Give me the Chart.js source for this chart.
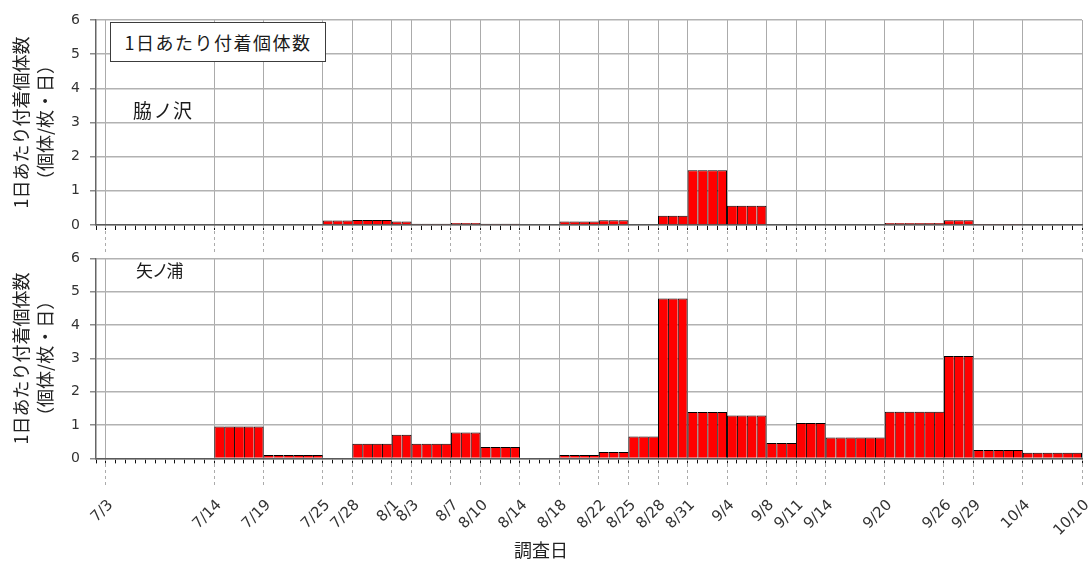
<!DOCTYPE html>
<html lang="ja">
<head>
<meta charset="utf-8">
<title>1日あたり付着個体数</title>
<script src="https://cdn.jsdelivr.net/npm/chart.js@4.4.1/dist/chart.umd.min.js"></script>
<style>
  html, body { margin: 0; padding: 0; background: #fff; }
  #wrap { position: relative; width: 1089px; height: 563px; overflow: hidden; background: #fff; }
  canvas { position: absolute; left: 0; }
  #c1 { top: 0; z-index: 2; }
  #c2 { top: 240px; z-index: 1; }
  .lbl { position: absolute; z-index: 3; font-family: 'Noto Sans CJK JP', sans-serif; color: #1a1a1a; white-space: nowrap; line-height: 1; }
  #key { left: 110px; top: 22px; width: 214px; height: 38px; border: 1px solid #3c3c3c; background: #fff;
         font-size: 18px; letter-spacing: 1.5px; display: flex; align-items: center; justify-content: center; }
  #site1 { left: 133px; top: 100px; font-size: 19px; letter-spacing: 3px; font-feature-settings: "palt"; }
  #site2 { left: 136px; top: 261px; font-size: 17px; font-feature-settings: "palt"; }
</style>
</head>
<body>
<div id="wrap">
  <canvas id="c1" width="1089" height="262"></canvas>
  <canvas id="c2" width="1089" height="323"></canvas>
  <div class="lbl" id="key">1日あたり付着個体数</div>
  <div class="lbl" id="site1">脇ノ沢</div>
  <div class="lbl" id="site2">矢ノ浦</div>
</div>
<script>
// Survey dates (tick labels); each value below is the daily mean for the
// period between one survey date and the next (null = no bar).
const surveyDates = ['7/3','7/14','7/19','7/25','7/28','8/1','8/3','8/7','8/10','8/14','8/18','8/22',
                     '8/25','8/28','8/31','9/4','9/8','9/11','9/14','9/20','9/26','9/29','10/4','10/10'];

// 脇ノ沢 (individuals / plate / day)
const wakinosawa = [null, null, null, 0.13, 0.15, 0.10, 0.04, 0.06, 0.04, null, 0.10, 0.14,
                    null, 0.27, 1.60, 0.56, null, null, 0.02, 0.06, 0.14, 0.03, null];

// 矢ノ浦 (individuals / plate / day)
const yanoura = [null, 0.96, 0.10, null, 0.44, 0.71, 0.44, 0.78, 0.34, null, 0.10, 0.19,
                 0.66, 4.80, 1.39, 1.29, 0.46, 1.06, 0.63, 1.40, 3.07, 0.25, 0.17];

const yTickValues = [0, 1, 2, 3, 4, 5, 6];
const yTitle = ['1日あたり付着個体数', '（個体/枚・日）'];
const xTitle = '調査日';

// Day axis: 0 = 7/2, one unit per day, 7/2 .. 10/10
const AXIS_START = new Date(2000, 6, 2);
const DAY_SPAN = 100;
function dayOf(label) {
  const [m, d] = label.split('/').map(Number);
  return Math.round((new Date(2000, m - 1, d) - AXIS_START) / 86400000);
}
const surveyDay = surveyDates.map(dayOf);
const labelAt = {};
surveyDates.forEach((s, i) => { labelAt[surveyDay[i]] = s; });
const dayTicks = [];
for (let d = 0; d <= DAY_SPAN; d++) dayTicks.push({ value: d });

// One bar per day, carrying the value of the survey period it belongs to
function dailyBars(periodValues) {
  const pts = [];
  periodValues.forEach((v, j) => {
    if (v === null) return;
    for (let d = surveyDay[j]; d < surveyDay[j + 1]; d++) pts.push({ x: d + 0.5, y: v });
  });
  return pts;
}

// Adjacent daily bars share a single outline
function barBorder(ctx) {
  const data = ctx.dataset.data;
  const cur = data[ctx.dataIndex];
  const next = data[ctx.dataIndex + 1];
  const joined = next && Math.abs(next.x - cur.x - 1) < 1e-6 && next.y >= cur.y;
  return { top: 1, left: 1, bottom: 0, right: joined ? 0 : 1 };
}

const yTickFont = { family: 'DejaVu Sans', size: 14 };
const xTickFont = { family: 'DejaVu Sans', size: 15 };
const cjkFont = { family: 'Noto Sans CJK JP', size: 18, lineHeight: 1.333, weight: 'normal' };

function makeChart(canvas, values, cfg) {
  return new Chart(canvas, {
    type: 'bar',
    data: {
      datasets: [{
        label: cfg.name,
        data: dailyBars(values),
        xAxisID: 'x', yAxisID: 'y',
        backgroundColor: '#ff0000',
        borderColor: '#000000',
        borderWidth: barBorder,
        borderSkipped: 'start',
        inflateAmount: 0,
        barPercentage: 1,
        categoryPercentage: 1
      }]
    },
    options: {
      responsive: false,
      animation: false,
      devicePixelRatio: 1,
      layout: { padding: cfg.padding },
      plugins: {
        legend: { display: false },
        tooltip: { enabled: false },
        title: cfg.title
      },
      scales: {
        x: {
          type: 'linear', min: 0, max: DAY_SPAN, position: 'bottom', offset: false,
          afterBuildTicks: s => { s.ticks = dayTicks.slice(); },
          afterFit: s => { s.height = 0; s.paddingLeft = 0; s.paddingRight = 0; },
          ticks: { display: false },
          grid: { offset: false, drawOnChartArea: false, tickLength: 5, tickColor: '#111', tickWidth: 1 },
          border: { display: true, color: '#5a5a5a', width: 1.5 }
        },
        xd: {
          type: 'linear', min: 0, max: DAY_SPAN, position: 'bottom', offset: false,
          afterBuildTicks: s => { s.ticks = surveyDay.map(v => ({ value: v })); },
          afterFit: s => { s.height = cfg.dateAxisHeight; s.paddingLeft = 0; s.paddingRight = 0; },
          ticks: {
            display: cfg.showDates, autoSkip: false, minRotation: 45, maxRotation: 45,
            padding: 9, labelOffset: 5, font: xTickFont, color: '#333',
            callback: v => labelAt[v] || ''
          },
          grid: {
            offset: false, drawOnChartArea: true, color: '#ababab', lineWidth: 1, borderDash: [3, 3],
            tickLength: 29, tickColor: '#ababab', tickWidth: 1, tickBorderDash: [3, 3]
          },
          border: { display: false }
        },
        y: {
          type: 'linear', min: 0, max: 6,
          afterBuildTicks: s => { s.ticks = yTickValues.map(v => ({ value: v })); },
          afterFit: s => { s.width = 96; },
          ticks: { font: yTickFont, color: '#333', padding: 10 },
          grid: { color: '#b2b2b2', lineWidth: 1.5, tickLength: 6, tickColor: '#8a8a8a' },
          border: { display: true, color: '#666', width: 1.5 },
          title: { display: true, text: yTitle, font: cjkFont, color: '#222', padding: { top: 9.5, bottom: 0 } }
        }
      }
    }
  });
}

makeChart(document.getElementById('c1'), wakinosawa, {
  name: '脇ノ沢',
  padding: { top: 20, right: 7, bottom: 8, left: 0 },
  dateAxisHeight: 29,
  showDates: false,
  title: { display: false }
});

makeChart(document.getElementById('c2'), yanoura, {
  name: '矢ノ浦',
  padding: { top: 13, right: 7, bottom: 0, left: 0 },
  dateAxisHeight: 81,
  showDates: true,
  title: {
    display: true, text: xTitle, position: 'bottom', color: '#222',
    font: { family: 'Noto Sans CJK JP', size: 18, lineHeight: 1.2, weight: 'normal' },
    padding: { top: 0, bottom: 2 }
  }
});
</script>
</body>
</html>
